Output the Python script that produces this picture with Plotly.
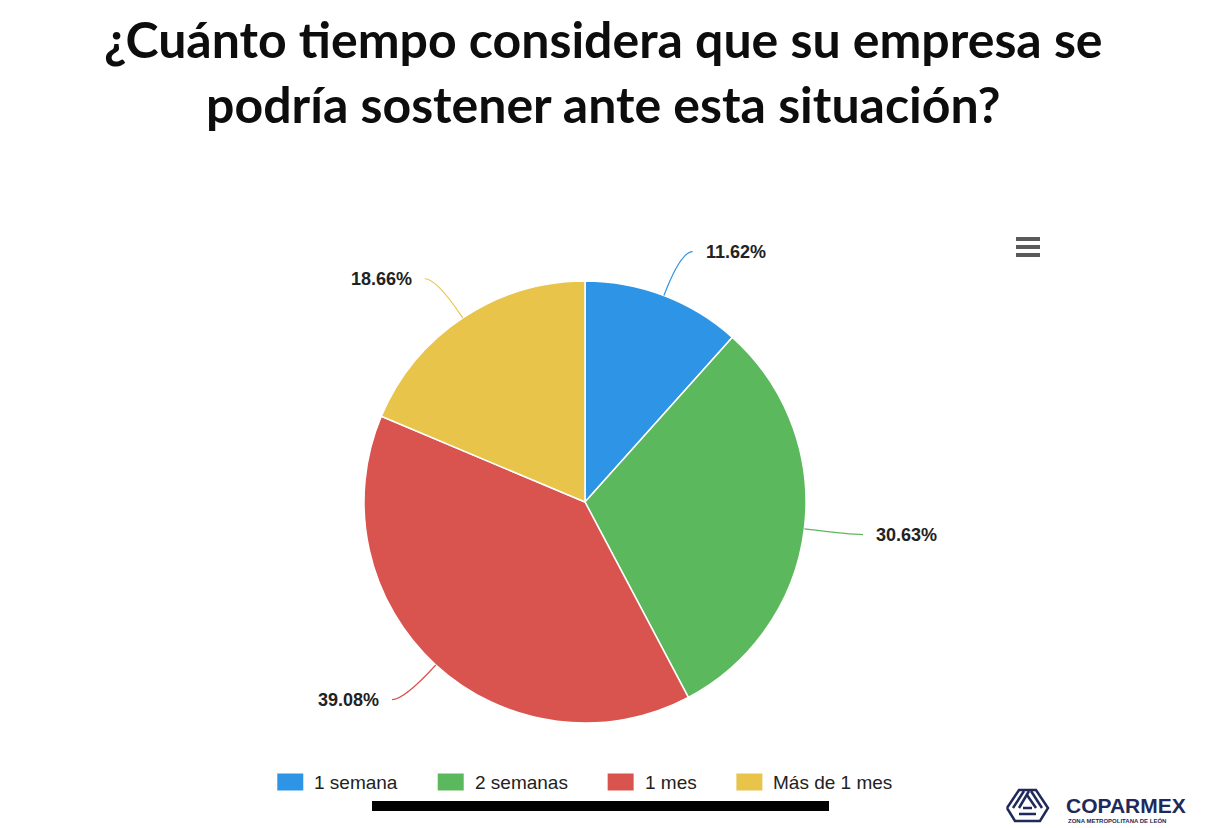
import math
import plotly.graph_objects as go

# ---- data ----
categories = ["1 semana", "2 semanas", "1 mes", "Más de 1 mes"]
values = [11.62, 30.63, 39.08, 18.66]
label_texts = ["11.62%", "30.63%", "39.08%", "18.66%"]
colors = ["#2d94e6", "#5cb85c", "#d9534f", "#e8c54a"]

W, H = 1206, 828
CX, CY, R = 585, 502, 221
R_LAB = 268
NAVY = "#1f2a5a"


def px(x):
    return x / W


def py(y):
    return 1 - y / H


fig = go.Figure()
fig.add_trace(go.Pie(
    labels=categories,
    values=values,
    sort=False,
    direction="clockwise",
    rotation=0,
    marker=dict(colors=colors, line=dict(color="white", width=1.5)),
    textinfo="none",
    hoverinfo="label+percent",
    showlegend=False,
    domain=dict(x=[px(CX - R), px(CX + R)], y=[py(CY + R), py(CY - R)]),
))

shapes = []
annotations = []
total = sum(values)
cum = 0.0
for v, txt, col in zip(values, label_texts, colors):
    mid = (cum + v / 2) / total * 2 * math.pi
    cum += v
    s, c = math.sin(mid), math.cos(mid)
    ex, ey = CX + R * s, CY - R * c
    qx, qy = CX + R_LAB * s, CY - R_LAB * c
    side = 1 if s >= 0 else -1
    endx, endy = qx + side * 12, qy
    path = f"M {px(ex)},{py(ey)} Q {px(qx)},{py(qy)} {px(endx)},{py(endy)}"
    shapes.append(dict(type="path", path=path, xref="paper", yref="paper",
                       line=dict(color=col, width=1.2)))
    annotations.append(dict(
        x=px(endx + side * 11), y=py(endy), xref="paper", yref="paper",
        text=f"<b>{txt}</b>", showarrow=False,
        xanchor="left" if side > 0 else "right", yanchor="middle",
        font=dict(family="Liberation Sans, Arial, sans-serif", size=18, color="#222"),
    ))

# ---- legend (drawn manually to get wide colour boxes) ----
ARIAL_W = {"1": 556, "2": 556, " ": 278, "s": 500, "e": 556, "m": 833,
           "a": 556, "n": 556, "M": 833, "á": 556, "d": 556}
LEG_FS = 19
BOX_W, BOX_H, BOX_GAP, ITEM_GAP = 26, 17, 11, 40
widths = [sum(ARIAL_W.get(ch, 556) for ch in t) / 1000 * LEG_FS for t in categories]
total_w = sum(BOX_W + BOX_GAP + w for w in widths) + ITEM_GAP * (len(widths) - 1)
x = CX - total_w / 2
LEG_Y = 782
for t, w, col in zip(categories, widths, colors):
    shapes.append(dict(type="rect", xref="paper", yref="paper",
                       x0=px(x), x1=px(x + BOX_W), y0=py(LEG_Y + BOX_H / 2), y1=py(LEG_Y - BOX_H / 2),
                       fillcolor=col, line=dict(width=0)))
    annotations.append(dict(
        x=px(x + BOX_W + BOX_GAP), y=py(LEG_Y), xref="paper", yref="paper",
        text=t, showarrow=False, xanchor="left", yanchor="middle", xshift=-2,
        font=dict(family="Liberation Sans, Arial, sans-serif", size=LEG_FS, color="#222"),
    ))
    x += BOX_W + BOX_GAP + w + ITEM_GAP

# title
annotations.append(dict(
    x=0.5, y=py(72), xref="paper", yref="paper",
    text="<b>¿Cuánto tiempo considera que su empresa se<br>podría sostener ante esta situación?</b>",
    showarrow=False, xanchor="center", yanchor="middle",
    font=dict(family="Lato, sans-serif", size=50, color="#0d0d0d"),
))

# logo text
annotations.append(dict(
    x=px(1064), y=py(805), xref="paper", yref="paper",
    text="<b>COPARMEX</b>", showarrow=False, xanchor="left", yanchor="middle",
    font=dict(family="Liberation Sans, Arial, sans-serif", size=21, color=NAVY),
))
annotations.append(dict(
    x=px(1066), y=py(820), xref="paper", yref="paper",
    text="<b>ZONA METROPOLITANA DE LEÓN</b>", showarrow=False, xanchor="left", yanchor="middle",
    font=dict(family="Liberation Sans, Arial, sans-serif", size=6, color=NAVY),
))

# hamburger menu icon
for yy in (239, 247, 255):
    shapes.append(dict(type="line", xref="paper", yref="paper",
                       x0=px(1016), x1=px(1040), y0=py(yy), y1=py(yy),
                       line=dict(color="#5a5a5a", width=4)))

# home indicator bar
shapes.append(dict(type="line", xref="paper", yref="paper",
                   x0=px(372), x1=px(829), y0=py(806), y1=py(806),
                   line=dict(color="black", width=10)))

# logo icon (stylised)
logo_paths = [
    [(1007, 808), (1019, 790), (1036, 790), (1048, 808), (1040, 821), (1015, 821), (1007, 808)],
    [(1013, 808), (1024, 791)],
    [(1019, 808), (1029, 791)],
    [(1042, 808), (1031, 791)],
    [(1036, 808), (1027, 795)],
    [(1019, 814), (1036, 814)],
    [(1023, 808), (1032, 808)],
]
for pts in logo_paths:
    p = "M " + " L ".join(f"{px(a)},{py(b)}" for a, b in pts)
    shapes.append(dict(type="path", xref="paper", yref="paper", path=p,
                       line=dict(color=NAVY, width=2.5)))

fig.update_layout(
    width=W, height=H,
    margin=dict(l=0, r=0, t=0, b=0),
    paper_bgcolor="white",
    plot_bgcolor="white",
    shapes=shapes,
    annotations=annotations,
    showlegend=False,
)

fig.write_html("out.html", config={"displayModeBar": False},
               post_script="document.body.style.margin='0';")
